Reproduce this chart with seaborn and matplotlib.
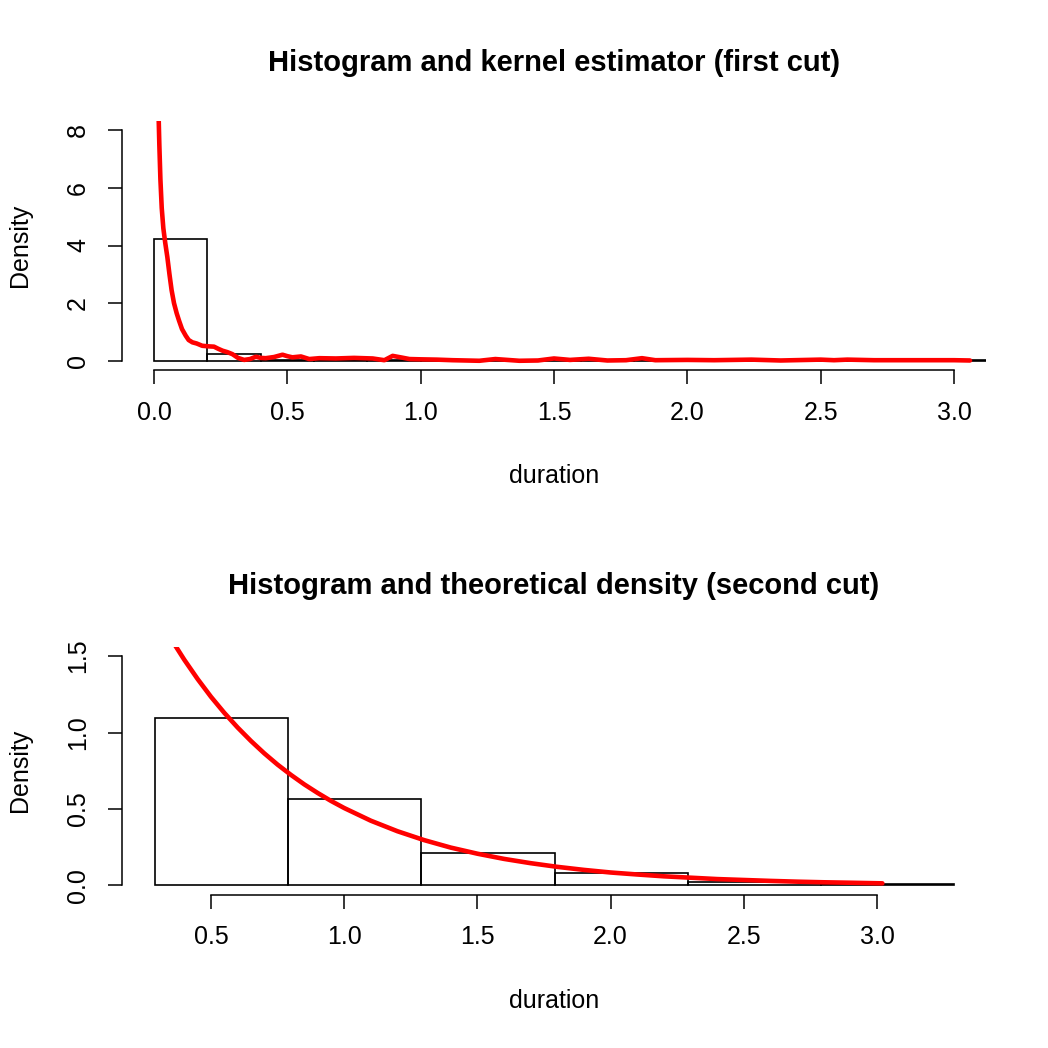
import numpy as np
import pandas as pd
import matplotlib
matplotlib.use("Agg")
import matplotlib.pyplot as plt
import seaborn as sns

# ---------------- data ----------------
# Top panel: histogram (first cut), bin edges and density heights
top_edges = [0.0, 0.2, 0.4, 0.6, 0.8, 1.0, 1.2, 1.4, 1.6, 1.8, 2.0,
             2.2, 2.4, 2.6, 2.8, 3.0, 3.2]
top_heights = [4.21, 0.22, 0.03, 0.03, 0.02, 0.02, 0.02, 0.01, 0.01, 0.01,
               0.01, 0.01, 0.01, 0.01, 0.01, 0.01]

# Top panel: kernel density estimate
kde_x = [0.014, 0.017, 0.020, 0.024, 0.029, 0.035, 0.042, 0.050, 0.058, 0.066,
         0.075, 0.085, 0.094, 0.105, 0.119, 0.130, 0.144, 0.160, 0.181, 0.205,
         0.225, 0.240, 0.257, 0.275, 0.294, 0.315, 0.338, 0.360, 0.382, 0.400,
         0.419, 0.450, 0.482, 0.500, 0.519, 0.551, 0.582, 0.620, 0.682, 0.750,
         0.820, 0.864, 0.895, 0.930, 0.958, 1.000, 1.060, 1.120, 1.220, 1.280,
         1.370, 1.440, 1.500, 1.560, 1.630, 1.700, 1.770, 1.830, 1.880, 2.000,
         2.100, 2.240, 2.350, 2.500, 2.550, 2.600, 2.700, 2.900, 3.000, 3.060]
kde_y = [10.0, 8.60, 7.50, 6.30, 5.30, 4.60, 4.10, 3.60, 3.00, 2.45,
         2.00, 1.65, 1.39, 1.10, 0.87, 0.72, 0.64, 0.60, 0.52, 0.50,
         0.49, 0.42, 0.35, 0.30, 0.23, 0.10, 0.03, 0.06, 0.14, 0.10,
         0.09, 0.13, 0.21, 0.16, 0.12, 0.15, 0.06, 0.09, 0.08, 0.10,
         0.08, 0.02, 0.17, 0.11, 0.06, 0.05, 0.04, 0.02, 0.00, 0.06,
         0.00, 0.01, 0.08, 0.03, 0.07, 0.01, 0.02, 0.09, 0.02, 0.03,
         0.02, 0.04, 0.01, 0.04, 0.02, 0.04, 0.02, 0.02, 0.02, 0.01]

# Bottom panel: histogram (second cut)
bot_edges = [0.29, 0.79, 1.29, 1.79, 2.29, 2.79, 3.29]
bot_heights = [1.098, 0.565, 0.214, 0.080, 0.020, 0.008]

# Bottom panel: theoretical density
theo_x = [0.29, 0.35, 0.40, 0.45, 0.50, 0.55, 0.60, 0.65, 0.70, 0.75, 0.80,
          0.85, 0.90, 0.95, 1.00, 1.10, 1.20, 1.30, 1.40, 1.50, 1.60, 1.70,
          1.80, 1.90, 2.00, 2.10, 2.20, 2.30, 2.40, 2.50, 2.60, 2.70, 2.80,
          2.90, 3.02]
theo_y = [1.800, 1.613, 1.476, 1.350, 1.234, 1.129, 1.033, 0.945, 0.864, 0.790,
          0.723, 0.661, 0.605, 0.553, 0.506, 0.423, 0.354, 0.296, 0.247, 0.207,
          0.173, 0.145, 0.121, 0.101, 0.084, 0.071, 0.059, 0.050, 0.041, 0.035,
          0.029, 0.024, 0.020, 0.017, 0.013]

top_xticks = [0.0, 0.5, 1.0, 1.5, 2.0, 2.5, 3.0]
top_yticks = [0, 2, 4, 6, 8]
bot_xticks = [0.5, 1.0, 1.5, 2.0, 2.5, 3.0]
bot_yticks = [0.0, 0.5, 1.0, 1.5]

titles = ["Histogram and kernel estimator (first cut)",
          "Histogram and theoretical density (second cut)"]
xlabel = "duration"
ylabel = "Density"

# ---------------- style ----------------
sns.set_style("ticks")
plt.rcParams["font.family"] = ["Liberation Sans", "DejaVu Sans"]
plt.rcParams["text.color"] = "black"
plt.rcParams["axes.labelcolor"] = "black"
plt.rcParams["xtick.color"] = "black"
plt.rcParams["ytick.color"] = "black"

fig = plt.figure(figsize=(10.48, 10.48), dpi=100)
W = 864 / 1048
L = 122 / 1048
ax1 = fig.add_axes([L, 1 - 370 / 1048, W, 249 / 1048])
ax2 = fig.add_axes([L, 1 - 894.5 / 1048, W, 247.5 / 1048])


def hist_from_bins(ax, edges, heights):
    centers = [(a + b) / 2 for a, b in zip(edges[:-1], edges[1:])]
    df = pd.DataFrame({"x": centers, "w": list(heights)})
    sns.histplot(data=df, x="x", weights="w", bins=list(edges), stat="count",
                 fill=False, color="black", linewidth=1.2, ax=ax)


def style_axes(ax, xlim, ylim, xticks, yticks, xfmt, yfmt, title, title_y):
    ax.set_xlim(*xlim)
    ax.set_ylim(*ylim)
    ax.set_xticks(xticks)
    ax.set_yticks(yticks)
    ax.set_xticklabels([xfmt.format(v) for v in xticks], color="black")
    ax.set_yticklabels([yfmt.format(v) for v in yticks], rotation=90,
                       va="center", color="black")
    for s in ["top", "right"]:
        ax.spines[s].set_visible(False)
    ax.spines["left"].set_bounds(yticks[0], yticks[-1])
    ax.spines["bottom"].set_bounds(xticks[0], xticks[-1])
    for s in ["left", "bottom"]:
        ax.spines[s].set_linewidth(1.1)
        ax.spines[s].set_color("black")
    ax.tick_params(axis="both", direction="out", length=10, width=1.1,
                   colors="black", labelsize=18)
    ax.tick_params(axis="x", pad=12)
    ax.tick_params(axis="y", pad=13)
    ax.set_xlabel(xlabel, fontsize=18, color="black")
    ax.set_ylabel(ylabel, fontsize=18, color="black")
    h = ax.get_position().height * 1048
    w = ax.get_position().width * 1048
    ax.xaxis.set_label_coords(0.5, -106 / h)
    ax.xaxis.label.set_va("center")
    ax.yaxis.set_label_coords(-(122 - 20) / w, 0.5)
    ax.yaxis.label.set_va("center")
    ax.set_title(title, fontsize=21, fontweight="bold", y=1 + title_y / h,
                 va="center", pad=0, color="black")
    ax.patch.set_alpha(0)


# Top panel
hist_from_bins(ax1, top_edges, top_heights)
sns.lineplot(x=kde_x, y=kde_y, color="red", linewidth=3.3, sort=False,
             estimator=None, ax=ax1)
style_axes(ax1, (-0.12, 3.12), (-0.32, 8.32), top_xticks, top_yticks,
           "{:.1f}", "{:d}", titles[0], 58)

# Bottom panel
hist_from_bins(ax2, bot_edges, bot_heights)
sns.lineplot(x=theo_x, y=theo_y, color="red", linewidth=3.3, sort=False,
             estimator=None, ax=ax2)
style_axes(ax2, (0.166, 3.409), (-0.06, 1.56), bot_xticks, bot_yticks,
           "{:.1f}", "{:.1f}", titles[1], 61)

fig.savefig("out.png", dpi=100, facecolor="white")
